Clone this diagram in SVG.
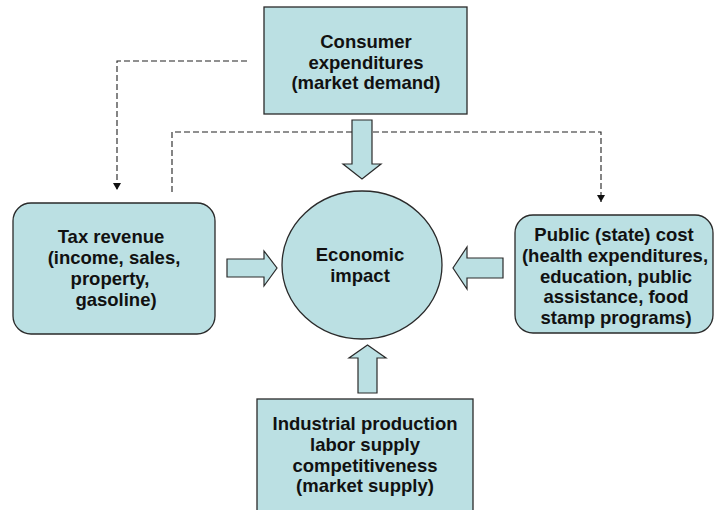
<svg xmlns="http://www.w3.org/2000/svg" width="717" height="510" viewBox="0 0 717 510">
<style>
.node{fill:#BBE0E3;stroke:#2a2a2a;stroke-width:1.3}
.arr{fill:#BBE0E3;stroke:#2a2a2a;stroke-width:1.2}
.dash{fill:none;stroke:#222;stroke-width:1.1;stroke-dasharray:6,3}
text{font-family:"Liberation Sans",Arial,sans-serif;font-weight:bold;font-size:18.5px;fill:#111;text-anchor:middle}
</style>
<defs>
<marker id="ah" markerWidth="8" markerHeight="8" refX="7" refY="4" orient="auto" markerUnits="userSpaceOnUse">
<path d="M0,0 L7,4 L0,8 z" fill="#111"/>
</marker>
</defs>
<rect width="717" height="510" fill="#fff"/>
<g id="connectors">
<polyline class="dash" points="247,61 117,61 117,190" marker-end="url(#ah)"/>
<polyline class="dash" points="172,192 172,132 601,132 601,202" marker-end="url(#ah)"/>
<polygon class="arr" points="352,120 372,120 372,164 381,164 362,179 343,164 352,164"/>
<polygon class="arr" points="227,259 264,259 264,251 277,268 264,286 264,277 227,277"/>
<polygon class="arr" points="503,258 467,258 467,247 453,268 467,289 467,278 503,278"/>
<polygon class="arr" points="358,393 358,358 349,358 367.5,345 386,358 377,358 377,393"/>
</g>
<g id="consumer">
<rect class="node" x="264" y="7" width="203" height="107"/>
<text x="366" y="48">Consumer</text>
<text x="366" y="68.5">expenditures</text>
<text x="366" y="89">(market demand)</text>
</g>
<g id="tax">
<rect class="node" x="13" y="203" width="202" height="131" rx="18"/>
<text x="111" y="243">Tax revenue</text>
<text x="114" y="264">(income, sales,</text>
<text x="110" y="285">property,</text>
<text x="116" y="306">gasoline)</text>
</g>
<g id="impact">
<ellipse class="node" cx="362" cy="265" rx="80" ry="74"/>
<text x="360" y="261">Economic</text>
<text x="360" y="282">impact</text>
</g>
<g id="public">
<rect class="node" x="515" y="215" width="198" height="118" rx="18"/>
<text x="614" y="241">Public (state) cost</text>
<text x="615" y="262">(health expenditures,</text>
<text x="616" y="283">education, public</text>
<text x="616" y="303">assistance, food</text>
<text x="616" y="324">stamp programs)</text>
</g>
<g id="industrial">
<rect class="node" x="257" y="399" width="216" height="120"/>
<text x="365" y="430">Industrial production</text>
<text x="365" y="451">labor supply</text>
<text x="365" y="472">competitiveness</text>
<text x="365" y="492">(market supply)</text>
</g>
</svg>
